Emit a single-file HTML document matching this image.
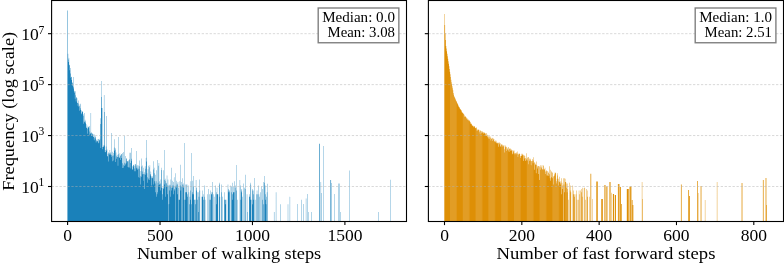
<!DOCTYPE html>
<html><head><meta charset="utf-8"><title>Histogram</title>
<style>
html,body{margin:0;padding:0;background:#fff;}
svg{display:block;}
text{font-family:"Liberation Serif","DejaVu Serif",serif;fill:#000;}
.tl{font-size:17.5px;}
.al{font-size:17.5px;}
.st{font-size:14px;}
.tk{stroke:#000;stroke-width:1.1;}
.sp{fill:none;stroke:#000;stroke-width:1.1;}
.gr{stroke:#b0b0b0;stroke-width:0.75;stroke-dasharray:2.3 1.65;stroke-opacity:0.65;}
.bx{fill:#fff;stroke:#808080;stroke-width:1.4;}
</style></head><body>
<svg width="784" height="263" viewBox="0 0 784 263">
<defs><pattern id="ps" patternUnits="userSpaceOnUse" x="450" y="0" width="12.8" height="263"><rect width="6.6" height="263" fill="#fff" fill-opacity=".13"/></pattern></defs>
<rect width="784" height="263" fill="#fff"/>
<g fill="#0173B2" fill-opacity="0.9">
<path id="pb" d="M67.42 10.55h.46V221.5h-.46z
M67.82 221.5V53.75H68.15V59.47H68.47V61.9H68.79V57.77H69.11V65.21H69.44V64.72H69.76V70.36H70.08V68.09H70.4V73.38H70.73V77.81H71.05V76.77H71.37V77.06H71.69V80H72.02V82.65H72.34V82.53H72.66V85.84H72.98V88.43H73.31V77H73.63V86.74H73.95V90.8H74.27V91.6H74.6V92.86H74.92V98.7H75.24V95.32H75.56V91.31H75.89V101.52H76.21V97.2H76.53V97.59H76.86V98.32H77.18V102.83H77.5V102.92H77.82V105.68H78.15V103.54H78.47V100.39H78.79V106.64H79.11V110.78H79.44V106.03H79.76V104.45H80.08V108.23H80.4V103.72H80.73V109.98H81.05V110.42H81.37V114.28H81.69V113.3H82.02V111.06H82.34V111.98H82.66V111.82H82.98V114.16H83.31V115.82H83.63V123.82H83.95V121.44H84.28V112.98H84.6V122.29H84.92V119.78H85.24V122.66H85.57V121.3H85.89V123.9H86.21V127.63H86.53V127.85H86.86V125.5H87.18V128.67H87.5V133.72H87.82V127.4H88.15V126.58H88.47V127.16H88.79V127.41H89.11V134.77H89.44V126.01H89.76V131.55H90.08V134.02H90.4V133.01H90.73V113H91.05V135.91H91.37V132.76H91.69V132.56H92.02V133.93H92.34V133.32H92.66V134.75H92.99V136.81H93.31V136.89H93.63V134.22H93.95V140.31H94.28V138.22H94.6V134.42H94.92V136.99H95.24V136.27H95.57V138.62H95.89V142.5H96.21V140.74H96.53V139.63H96.86V141.55H97.18V141.3H97.5V140.67H97.82V138.97H98.15V143.36H98.47V138.91H98.79V142.81H99.11V140.24H99.44V140.19H99.76V138.68H100.08V123.97H100.41V118.25H100.73V148.06H101.05V81H101.37V97H101.7V108H102.34V146.92H102.66V149.25H102.99V146.86H103.31V146.8H103.63V145.37H103.95V95H104.28V112H104.6V145.53H104.92V151.91H105.24V152.16H105.57V150H105.89V146.59H106.21V150.85H106.53V116H106.86V149.45H107.18V155.9H107.5V156.4H107.83V153.64H108.15V161.6H108.47V152.26H108.79V153.47H109.12V153.14H109.44V154.78H109.76V150.08H110.08V153.47H110.41V154.84H110.73V152.16H111.05V156.77H111.37V133H111.7V154.9H112.02V155.69H112.34V161.14H112.66V151.63H112.99V160.6H113.31V152.93H113.63V155.49H113.95V147.53H114.28V139.36H114.6V150.68H114.92V149.8H115.24V148.13H115.57V161.95H115.89V152.46H116.21V158.74H116.54V155.83H116.86V157H117.18V154.84H117.5V156.92H117.83V165.63H118.15V154.35H118.47V137H118.79V156.77H119.12V158.04H119.44V157.47H119.76V153.36H120.08V155.9H120.41V159.88H120.73V154.9H121.05V154.05H121.37V157.96H121.7V154.17H122.02V163.36H122.34V168.05H122.66V153.04H122.99V164.82H123.31V152.06H123.63V167.64H123.95V165.97H124.28V136H124.6V162.7H124.92V165.3H125.25V156.11H125.57V163.78H125.89V163.23H126.21V158.92H126.54V158.04H126.86V161.37H127.18V161.03H127.5V161.6H127.83V167.06H128.15V161.25H128.47V167.44H128.79V160.08H129.12V159.2H129.44V167.44H129.76V152.72H130.08V162.96H130.41V152.72H130.73V168.48H131.05V158.83H131.37V148H131.7V160.7H132.02V169.62H132.34V169.38H132.67V166.32H132.99V166.5H133.31V164.98H133.63V164.82H133.96V165.63H134.28V168.48H134.6V171.17H134.92V163.92H135.25V171.17H135.57V164.36H135.89V165.46H136.21V167.85H136.54V151H136.86V168.7H137.18V169.86H137.5V165.3H137.83V167.85H138.15V177.29H138.47V165.46H138.79V168.92H139.12V166.32H139.44V160.49H139.76V177.78H140.08V184.48H140.41V176.36H140.73V170.89H141.05V158.47H141.38V176.82H141.7V166.5H142.02V174.35H142.34V165.46H142.67V171.45H142.99V180.63H143.31V167.85H143.63V173.99H143.96V172.33H144.28V174.35H144.6V188.97H144.92V166.14H145.25V168.7H145.57V174.72H145.89V157.79H146.21V140H146.54V161.48H146.86V173.29H147.18V182.78H147.5V177.29H147.83V169.15H148.15V165.63H148.47V179.4H148.8V178.29H149.12V180H149.44V167.25H149.76V165.3H150.09V173.99H150.41V175.51H150.73V171.45H151.05V185.45H151.38V176.36H151.7V177.78H152.02V178.29H152.34V176.36H152.67V177.78H152.99V184.48H153.31V169.38H153.63V161.25H153.96V167.85H154.28V181.3H154.6V173.29H154.92V183.6H155.25V174.72H155.57V192.15H155.89V181.3H156.22V196.64H156.54V170.37H156.86V194.17H157.18V159.88H157.51V192.15H157.83V182.78H158.15V185.45H158.47V165.63H158.8V162.96H159.12V181.3H159.44V184.48H160.09V183.6H160.41V190.45H160.73V179.4H161.05V187.67H161.38V170.11H161.7V167.85H162.02V194.17H162.34V187.67H162.67V199.82H162.99V187.67H163.31V170.37H163.63V188.97H163.96V180H164.28V150H164.6V184.48H164.93V178.83H165.25V180.63H165.57V196.64H165.89V182.78H166.22V183.6H166.54V186.5H166.86V175.51H167.18V185.45H167.51V194.17H167.83V179.4H168.15V185.45H168.47V221.5z
M168.8 221.5V204.3H169.12V185.45H169.44V190.45H169.76V184.48H170.09V196.64H170.41V185.45H170.73V179.4H171.05V167.64H171.38V187.67H171.7V190.45H172.02V187.67H172.34V185.45H172.67V180.63H172.99V185.45H173.31V194.17H173.64V182.01H173.96V177.29H174.28V188.97H174.6V190.45H174.93V186.5H175.25V221.5z
M175.57 221.5V173.29H175.89V185.45H176.22V180.63H176.54V187.67H176.86V183.6H177.18V194.17H177.51V184.48H177.83V182.01H178.15V221.5z
M178.47 221.5V187.67H178.8V199.82H179.76V181.3H180.09V185.45H180.41V164.82H180.73V190.45H181.06V182.01H181.38V221.5z
M181.7 221.5V186.5H182.02V184.48H182.35V178.29H182.67V221.5z
M182.99 221.5V185.45H183.31V187.67H183.64V183.6H183.96V199.82H184.28V143H184.6V221.5z
M184.93 221.5V199.82H185.25V192.15H185.57V184.48H185.89V192.15H186.22V184.48H186.54V192.15H186.86V184.48H187.18V196.64H187.51V194.17H187.83V221.5z
M188.15 221.5V185.45H188.47V221.5z
M188.8 221.5V192.15H189.12V204.3H189.44V221.5z
M189.77 221.5V196.64H190.09V190.45H190.41V199.82H190.73V181.3H191.06V204.3H191.38V153H191.7V221.5z
M192.02 221.5V192.15H192.35V194.17H192.67V180.63H192.99V186.5H193.31V194.17H193.64V175.93H193.96V199.82H194.6V221.5z
M195.25 221.5V199.82H195.57V204.3H195.89V180H196.22V187.67H196.54V190.45H196.86V221.5z
M197.19 221.5V199.82H197.51V192.15H197.83V221.5z
M198.15 221.5V211.97H198.48V192.15H198.8V196.64H199.12V221.5z
M199.44 221.5V179.4H199.77V190.45H200.09V221.5z
M201.7 221.5V196.64H202.67V190.45H202.99V194.17H203.31V199.82H203.64V221.5z
M204.28 221.5V196.64H204.6V185.45H204.93V199.82H205.25V221.5z
M207.19 221.5V194.17H207.51V221.5z
M208.48 221.5V188.97H208.8V221.5z
M209.44 221.5V194.17H209.77V199.82H210.09V190.45H210.41V199.82H210.73V221.5z
M211.06 221.5V192.15H211.38V194.17H212.02V182.01H212.35V192.15H212.67V221.5z
M212.99 221.5V194.17H213.32V221.5z
M213.96 221.5V196.64H214.28V221.5z
M215.57 221.5V185.45H215.9V194.17H216.22V192.15H216.54V204.3H216.86V187.67H217.19V194.17H218.15V221.5z
M219.12 221.5V184.48H219.44V182.78H219.77V196.64H220.09V221.5z
M221.06 221.5V184.48H221.38V221.5z
M221.7 221.5V192.15H222.03V196.64H222.35V221.5z
M224.28 221.5V199.82H224.61V192.15H224.93V199.82H225.25V204.3H225.57V199.82H226.22V221.5z
M227.83 221.5V184.48H228.15V188.97H228.48V192.15H228.8V190.45H229.45V192.15H229.77V221.5z
M230.74 221.5V185.45H231.06V186.5H231.38V192.15H231.7V221.5z
M232.03 221.5V182.78H232.35V199.82H232.67V194.17H232.99V186.5H233.32V192.15H234.28V181.3H234.61V221.5z
M234.93 221.5V187.67H235.25V185.45H235.57V221.5z
M236.22 221.5V165H236.54V190.45H236.87V221.5z
M237.51 221.5V199.82H237.83V221.5z
M239.77 221.5V180H240.09V221.5z
M240.41 221.5V185.45H240.74V199.82H241.06V192.15H241.38V190.45H241.7V188.97H242.03V196.64H242.35V221.5z
M243.32 221.5V183.6H243.64V221.5z
M244.61 221.5V187.67H244.93V188.97H245.25V174.72H245.58V221.5z
M246.87 221.5V194.17H247.19V211.97H247.51V221.5z
M249.12 221.5V194.17H249.45V196.64H250.09V182.78H250.41V199.82H250.74V184.48H251.06V199.82H251.38V221.5z
M252.03 221.5V188.97H252.35V190.45H252.67V204.3H253V194.17H253.32V190.45H253.64V199.82H253.96V221.5z
M254.61 221.5V178H254.93V199.82H255.25V221.5z
M256.54 221.5V194.17H256.87V190.45H257.19V194.17H257.51V221.5z
M258.48 221.5V185.45H258.8V194.17H259.12V221.5z
M259.45 221.5V196.64H259.77V221.5z
M260.41 221.5V192.15H260.74V221.5z
M261.06 221.5V186.5H261.38V221.5z
M262.35 221.5V199.82H262.67V188.97H263V204.3H263.32V182.01H263.64V221.5z
M264.29 221.5V175.93H264.61V182.78H264.93V185.45H265.25V199.82H265.58V194.17H265.9V204.3H266.22V221.5z
M266.54 221.5V196.64H266.87V192.15H267.19V221.5z
M267.51 221.5V183.7H267.83V221.5z
M273.96 221.5V211.97H274.29V221.5z
M275.9 221.5V192.15H276.22V221.5z
M280.09 221.5V204.3H280.42V221.5z
M287.84 221.5V204.3H288.16V221.5z
M289.77 221.5V196.8H290.09V221.5z
M297.19 221.5V204H297.51V221.5z
M301.38 221.5V199.7H301.71V221.5z
M303.64 221.5V204H303.97V221.5z
M305.9 221.5V198.6H306.22V221.5z
M307.51 221.5V194H307.84V221.5z
M308.48 221.5V211.97H308.8V221.5z
M311.06 221.5V211.97H311.39V221.5z
M319.13 221.5V143.7H319.77V221.5z
M320.74 221.5V182H321.06V193H321.39V221.5z
M323.32 221.5V146H323.64V221.5z
M330.1 221.5V180H330.42V221.5z
M330.74 221.5V180H331.06V183H331.39V221.5z
M334.29 221.5V194H334.61V221.5z
M338.48 221.5V183.4H338.81V221.5z
M339.13 221.5V183.4H339.45V221.5z
M340.42 221.5V211.97H340.74V221.5z
M349.45 221.5V170.4H349.77V221.5z
M378.16 221.5V211.97H378.49V221.5z
M390.1 221.5V179.8H390.42V221.5z"/>
</g>
<g fill="#DE8F05" fill-opacity="1">
<path id="po" d="M444.31 221.5V14.02H444.69V25H445.08V32.98H445.47V40.03H445.85V46.1H446.24V48.62H446.63V51.2H447.01V53.77H447.4V56.24H447.79V58.67H448.17V61.22H448.56V63.76H448.95V66.37H449.33V68.95H449.72V71.63H450.11V74.29H450.49V77.07H450.88V79.8H451.27V82.24H451.65V84.27H452.04V86.24H452.43V88.18H452.81V90.18H453.2V93.03H453.59V94.8H453.97V96.19H454.36V97.08H454.75V97.89H455.13V98.69H455.52V99.64H455.91V100.66H456.29V101.18H456.68V102.27H457.07V102.97H457.45V104.05H457.84V104.64H458.23V105.71H458.61V106.67H459V107.35H459.39V107.4H459.77V108.63H460.16V109.25H460.55V109.61H460.93V110.06H461.32V110.83H461.71V112.23H462.09V112.85H462.48V112.61H462.86V113.13H463.25V113.8H463.64V114.31H464.02V114.67H464.41V116.58H464.8V116.78H465.18V116.06H465.57V117.1H465.96V117.29H466.34V118.17H466.73V118.74H467.12V118.52H467.5V119.88H467.89V119.31H468.28V120.58H468.66V120.34H469.05V120.33H469.44V121.06H469.82V121.7H470.21V123.83H470.6V122.16H470.98V123.6H471.37V123.89H471.76V125.32H472.14V125.66H472.53V125.62H472.92V126.35H473.3V127.29H473.69V125.85H474.08V126.57H474.46V126.19H474.85V127.43H475.24V128H475.62V128.13H476.01V127.27H476.4V128.36H476.78V130.69H477.17V129.56H477.56V130.46H477.94V129.49H478.33V129.91H478.72V129.5H479.1V132.35H479.49V130.48H479.88V134.28H480.26V130.19H480.65V131.03H481.04V131.04H481.42V133.14H481.81V132.04H482.2V131.37H482.58V132.78H482.97V132.19H483.36V133.63H483.74V132.61H484.52V133.2H484.9V133.44H485.29V133.52H485.68V135.77H486.06V135.93H486.45V133.12H486.84V134.45H487.22V137.19H487.61V135.14H488V136.4H488.38V138.61H488.77V136.3H489.16V136.45H489.54V138.86H489.93V136.46H490.32V137.76H490.7V140.62H491.09V138.61H491.48V138.95H491.86V137.84H492.25V138.21H492.64V140.9H493.02V138.55H493.41V139.79H493.8V139H494.18V141.34H494.57V141.43H494.96V141.34H495.34V142.36H495.73V140.22H496.12V141.45H496.5V142.88H496.89V143.66H497.27V142.67H497.66V142.65H498.05V146.65H498.43V142.99H498.82V142.27H499.21V144.22H499.59V142.69H499.98V146.29H500.37V143.14H500.75V146.71H501.14V144.15H501.53V144.87H501.91V144.39H502.3V146.59H502.69V145.32H503.07V145.45H503.46V146.44H503.85V145.32H504.23V152.61H504.62V149.14H505.01V145.4H505.39V147.3H505.78V146.53H506.17V147.05H506.55V151.03H506.94V148.77H507.33V149.68H507.71V147.82H508.1V147.02H508.49V150.38H508.87V152.01H509.26V149.03H509.65V148.3H510.03V150.72H510.42V148.59H510.81V149.25H511.19V150.68H511.58V149.76H511.97V154.23H512.35V150.33H512.74V153.47H513.13V151.58H513.51V150.55H513.9V150.42H514.29V154.23H514.67V152.88H515.45V154.35H515.83V152.77H516.22V154.29H516.61V152.41H516.99V151.44H517.38V153.64H517.77V157.07H518.15V154.65H518.54V153.81H518.93V153.47H519.31V153.87H519.7V154.11H520.09V158.04H520.47V156.33H520.86V156.11H521.25V155.69H521.63V153.76H522.41V154.71H522.79V155.49H523.18V154.84H523.57V160.92H523.95V155.42H524.34V158.39H524.73V155.83H525.11V157.88H525.5V160.92H525.89V160.28H526.27V153.31H526.66V158.83H527.05V157.71H527.43V160.6H527.82V157.15H528.21V164.21H528.59V157.07H528.98V158.56H529.37V160.92H529.75V159.58H530.14V160.49H530.53V158.83H530.91V165.3H531.3V161.03H531.69V161.14H532.07V160.7H532.46V159.01H532.84V163.23H533.23V157.23H533.62V160.49H534V169.86H534.39V162.2H534.78V162.7H535.16V164.51H535.94V173.29H536.32V161.6H536.71V164.98H537.1V166.5H537.48V168.48H537.87V165.97H538.64V173.99H539.03V180H539.42V166.14H539.8V167.25H540.19V165.13H540.58V169.86H540.96V166.87H541.35V168.26H541.74V165.3H542.12V169.15H542.51V169.62H542.9V164.98H543.28V165.97H543.67V169.38H544.06V169.15H544.44V169.62H544.83V167.85H545.22V173.99H545.6V171.45H545.99V171.17H546.38V170.37H546.76V175.51H547.15V170.89H547.54V175.51H547.92V171.73H548.31V172.96H548.7V175.93H549.08V166.14H549.47V174.35H549.86V178.29H550.24V169.86H550.63V180.63H551.02V171.17H551.4V177.29H551.79V172.33H552.18V172.64H552.56V178.29H552.95V176.82H553.34V184.48H553.72V175.93H554.11V175.51H554.5V173.63H554.88V172.33H555.27V173.29H555.66V172.96H556.04V181.3H556.43V183.6H556.82V178.83H557.2V173.29H557.59V175.51H557.98V185.45H558.36V178.83H558.75V181.3H559.14V182.01H559.52V176.82H559.91V182.78H560.3V184.48H560.68V181.3H561.07V178.29H561.46V194.17H561.84V182.78H562.23V185.45H562.62V188.97H563V221.5z
M563.39 221.5V178.29H563.78V184.48H564.16V192.15H564.55V178.29H564.94V178.83H565.32V182.01H566.1V183.6H566.48V187.67H566.87V192.15H567.26V183.6H567.64V188.97H568.03V221.5z
M568.41 221.5V199.82H568.8V221.5z
M569.57 221.5V182.78H569.96V190.45H570.35V185.45H570.73V192.15H571.12V221.5z
M572.67 221.5V185.45H573.05V194.17H573.44V190.45H573.83V221.5z
M574.21 221.5V194.17H574.6V196.64H574.99V221.5z
M575.76 221.5V194.17H576.15V221.5z
M576.53 221.5V190.45H576.92V199.82H577.31V221.5z
M578.47 221.5V199.82H578.85V190.45H579.24V221.5z
M579.63 221.5V194.17H580.01V190.45H580.4V221.5z
M581.17 221.5V192.15H581.56V188.97H581.95V196.64H582.33V187.67H582.72V221.5z
M583.88 221.5V187.67H584.27V221.5z
M584.65 221.5V187.67H585.04V221.5z
M585.43 221.5V199.82H585.81V221.5z
M586.59 221.5V188.97H586.97V190.45H587.36V196.64H587.75V221.5z
M589.29 221.5V196.64H589.68V221.5z
M590.45 221.5V173.8H591.23V221.5z
M592.39 221.5V199H592.77V221.5z
M596.25 221.5V181.4H597.8V221.5z
M601.28 221.5V199H602.82V221.5z
M604.37 221.5V185H605.53V221.5z
M606.3 221.5V186.4H607.46V221.5z
M609.4 221.5V182H610.56V221.5z
M611.33 221.5V192.7H611.72V221.5z
M612.88 221.5V194H614.04V221.5z
M614.81 221.5V195H615.97V221.5z
M617.9 221.5V184H619.45V221.5z
M619.84 221.5V187H621V204H621.77V221.5z
M626.8 221.5V189H628.73V221.5z
M629.5 221.5V186.4H631.44V221.5z
M631.82 221.5V200H632.6V205H633.37V221.5z
M641.87 221.5V182H642.26V199H642.65V221.5z
M680.92 221.5V184.4H681.7V221.5z
M688.27 221.5V190H689.04V196H689.82V221.5z
M697.16 221.5V181H697.94V193H698.32V221.5z
M700.64 221.5V186H701.42V221.5z
M704.9 221.5V200H705.28V221.5z
M716.88 221.5V182H717.27V221.5z
M741.63 221.5V183H742.4V221.5z
M762.89 221.5V180H763.66V221.5z
M765.6 221.5V178H766.37V205H766.76V221.5z"/>
</g>
<use href="#po" fill="url(#ps)"/>
<line x1="67.6" x2="67.6" y1="221.5" y2="225.1" class="tk"/>
<text x="67.6" y="240.8" class="tl" text-anchor="middle">0</text>
<line x1="160.03" x2="160.03" y1="221.5" y2="225.1" class="tk"/>
<text x="160.03" y="240.8" class="tl" text-anchor="middle">500</text>
<line x1="252.47" x2="252.47" y1="221.5" y2="225.1" class="tk"/>
<text x="252.47" y="240.8" class="tl" text-anchor="middle">1000</text>
<line x1="344.9" x2="344.9" y1="221.5" y2="225.1" class="tk"/>
<text x="344.9" y="240.8" class="tl" text-anchor="middle">1500</text>
<line x1="48" x2="51.6" y1="186.5" y2="186.5" class="tk"/>
<text x="21.3" y="193" class="tl">10<tspan dy="-6.6" dx="-0.2" font-size="11.6px">1</tspan></text>
<line x1="48" x2="51.6" y1="135.56" y2="135.56" class="tk"/>
<text x="21.3" y="142.06" class="tl">10<tspan dy="-6.6" dx="-0.2" font-size="11.6px">3</tspan></text>
<line x1="48" x2="51.6" y1="84.62" y2="84.62" class="tk"/>
<text x="21.3" y="91.12" class="tl">10<tspan dy="-6.6" dx="-0.2" font-size="11.6px">5</tspan></text>
<line x1="48" x2="51.6" y1="33.68" y2="33.68" class="tk"/>
<text x="21.3" y="40.18" class="tl">10<tspan dy="-6.6" dx="-0.2" font-size="11.6px">7</tspan></text>
<line x1="51.6" x2="406.5" y1="186.5" y2="186.5" class="gr"/>
<line x1="51.6" x2="406.5" y1="135.56" y2="135.56" class="gr"/>
<line x1="51.6" x2="406.5" y1="84.62" y2="84.62" class="gr"/>
<line x1="51.6" x2="406.5" y1="33.68" y2="33.68" class="gr"/>
<rect x="51.6" y=".5" width="354.9" height="221" class="sp"/>
<text x="229.05" y="258.5" class="al" text-anchor="middle" textLength="184.3" lengthAdjust="spacingAndGlyphs">Number of walking steps</text>
<rect x="318.2" y="8" width="80.65" height="34.75" class="bx"/>
<text x="394.95" y="22.2" class="st" text-anchor="end" textLength="72.8" lengthAdjust="spacingAndGlyphs">Median: 0.0</text>
<text x="394.95" y="37.1" class="st" text-anchor="end" textLength="67.4" lengthAdjust="spacingAndGlyphs">Mean: 3.08</text>
<text transform="translate(13.6,111.3) rotate(-90)" class="al" text-anchor="middle" textLength="159" lengthAdjust="spacingAndGlyphs">Frequency (log scale)</text>
<line x1="444.5" x2="444.5" y1="221.5" y2="225.1" class="tk"/>
<text x="444.5" y="240.8" class="tl" text-anchor="middle">0</text>
<line x1="521.83" x2="521.83" y1="221.5" y2="225.1" class="tk"/>
<text x="521.83" y="240.8" class="tl" text-anchor="middle">200</text>
<line x1="599.15" x2="599.15" y1="221.5" y2="225.1" class="tk"/>
<text x="599.15" y="240.8" class="tl" text-anchor="middle">400</text>
<line x1="676.48" x2="676.48" y1="221.5" y2="225.1" class="tk"/>
<text x="676.48" y="240.8" class="tl" text-anchor="middle">600</text>
<line x1="753.8" x2="753.8" y1="221.5" y2="225.1" class="tk"/>
<text x="753.8" y="240.8" class="tl" text-anchor="middle">800</text>
<line x1="424.8" x2="428.4" y1="186.5" y2="186.5" class="tk"/>
<line x1="424.8" x2="428.4" y1="135.56" y2="135.56" class="tk"/>
<line x1="424.8" x2="428.4" y1="84.62" y2="84.62" class="tk"/>
<line x1="424.8" x2="428.4" y1="33.68" y2="33.68" class="tk"/>
<line x1="428.4" x2="783.5" y1="186.5" y2="186.5" class="gr"/>
<line x1="428.4" x2="783.5" y1="135.56" y2="135.56" class="gr"/>
<line x1="428.4" x2="783.5" y1="84.62" y2="84.62" class="gr"/>
<line x1="428.4" x2="783.5" y1="33.68" y2="33.68" class="gr"/>
<rect x="428.4" y=".5" width="355.1" height="221" class="sp"/>
<text x="605.95" y="258.5" class="al" text-anchor="middle" textLength="218.9" lengthAdjust="spacingAndGlyphs">Number of fast forward steps</text>
<rect x="695.2" y="8" width="80.7" height="34.75" class="bx"/>
<text x="772" y="22.2" class="st" text-anchor="end" textLength="72.8" lengthAdjust="spacingAndGlyphs">Median: 1.0</text>
<text x="772" y="37.1" class="st" text-anchor="end" textLength="67.4" lengthAdjust="spacingAndGlyphs">Mean: 2.51</text>
</svg>
</body></html>
